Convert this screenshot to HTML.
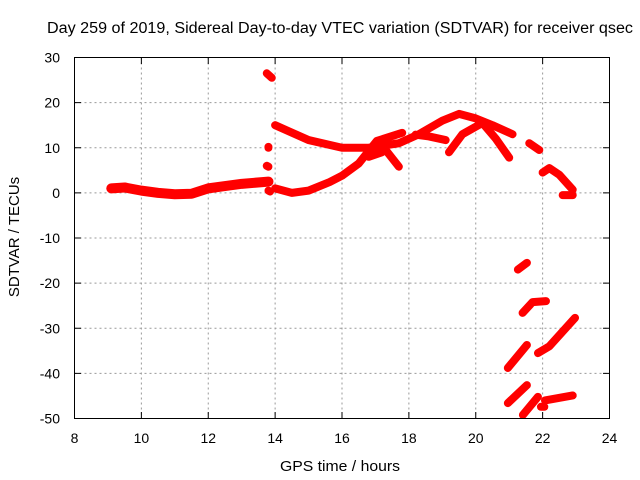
<!DOCTYPE html>
<html><head><meta charset="utf-8"><style>
body{margin:0;background:#fff;}
svg{display:block;font-family:"Liberation Sans",sans-serif;}
</style></head><body>
<svg id="chart" width="640" height="480">
<text x="47" y="33" font-size="15.5" textLength="586" lengthAdjust="spacingAndGlyphs" fill="#000">Day 259 of 2019, Sidereal Day-to-day VTEC variation (SDTVAR) for receiver qsec</text>
<text x="340" y="471" font-size="15" textLength="120" lengthAdjust="spacingAndGlyphs" text-anchor="middle">GPS time / hours</text>
<text transform="translate(19,237) rotate(-90)" font-size="15" text-anchor="middle">SDTVAR / TECUs</text>
<g id="grid"></g><g id="marks"></g>
<rect x="74.5" y="57.5" width="535" height="361" fill="none" stroke="#000" stroke-width="1"/>
<g id="ticks"></g>
</svg>
<script>
const xTicks=[8,10,12,14,16,18,20,22,24];
const yTicks=[30,20,10,0,-10,-20,-30,-40,-50];
const segMain=[[14,15],[15,11.7],[16,10],[16.8,10],[17.7,11],[18.3,13],[19,16],[19.5,17.5],[20,16.5],[20.5,15],[21.1,13]];
const segBase=[[9.1,1],[9.5,1.2],[10,0.5],[10.5,0],[11,-0.3],[11.5,-0.2],[12,1],[12.5,1.5],[13,2],[13.8,2.5]];
const segRise=[[14,1],[14.5,0],[15,0.5],[15.63,2.4],[16,3.8],[16.5,6.5],[17.04,11.5],[17.8,13.3]];
const segDrop=[[17.2,10.5],[17.7,5.8]];
const segFlat=[[16.8,8],[17.2,9]];
const segUpper=[[18.2,12.9],[18.6,12.5],[19.1,11.7]];
const segHump=[[19.2,9],[19.6,13],[20.2,15.5],[20.6,12],[21,7.8]];
const segSpike=[[13.75,26.5],[13.9,25.5]];
const segDots1=[[13.8,10],[13.8,10.2]];
const segDots2=[[13.75,6],[13.8,5.8]];
const segDots3=[[13.8,0.5],[13.85,0.3]];
const segR1=[[21.6,11],[21.9,9.5]];
const segR2=[[22,4.5],[22.2,5.5],[22.5,4],[22.9,0.7]];
const segR3=[[22.6,-0.5],[22.9,-0.5]];
const segL1=[[21.26,-17],[21.53,-15.5]];
const segL2=[[21.4,-26.6],[21.7,-24.2],[22.1,-24]];
const segL3=[[20.96,-38.8],[21.53,-33.7]];
const segL4=[[21.86,-35.5],[22.2,-34],[22.97,-27.7]];
const segL5=[[20.96,-46.6],[21.53,-42.6]];
const segL6=[[21.41,-49.2],[21.86,-45.2]];
const segL7=[[22.07,-46],[22.9,-44.9]];
const segL8=[[21.95,-47.4],[22.05,-47.4]];
const series=[segBase,segMain,segRise,segDrop,segFlat,segUpper,segHump,segSpike,segDots1,segDots2,segDots3,segR1,segR2,segR3,segL1,segL2,segL3,segL4,segL5,segL6,segL7,segL8];
const NS="http://www.w3.org/2000/svg";
const X=t=>74.5+(t-8)*535/16;
const Y=v=>57.5+(30-v)*361/80;
const grid=document.getElementById('grid'),ticks=document.getElementById('ticks'),marks=document.getElementById('marks');
function mk(tag,attrs,parent){const e=document.createElementNS(NS,tag);for(const k in attrs)e.setAttribute(k,attrs[k]);parent.appendChild(e);return e;}
xTicks.forEach(t=>{const x=X(t);
 if(t>8&&t<24){const g=mk('line',{x1:x,x2:x,y1:57.5,y2:418.5,stroke:'#999','stroke-dasharray':'2,3'},grid);
 
 }
 mk('line',{x1:x,x2:x,y1:418.5,y2:412,stroke:'#000'},ticks);mk('line',{x1:x,x2:x,y1:57.5,y2:64,stroke:'#000'},ticks);
 const l=mk('text',{x:x,y:443,'font-size':14,'text-anchor':'middle'},ticks);l.textContent=t;
 
 });
yTicks.forEach(v=>{const y=Y(v);
 if(v<30&&v>-50){const g=mk('line',{x1:74.5,x2:609.5,y1:y,y2:y,stroke:'#999','stroke-dasharray':'2,3'},grid);
 
 }
 mk('line',{x1:74.5,x2:81,y1:y,y2:y,stroke:'#000'},ticks);mk('line',{x1:609.5,x2:603,y1:y,y2:y,stroke:'#000'},ticks);
 const l=mk('text',{x:60,y:y+5,'font-size':14,'text-anchor':'end'},ticks);l.textContent=v;
 
 });
series.forEach((s,i)=>{const p=mk('polyline',{points:s.map(d=>X(d[0])+','+Y(d[1])).join(' '),fill:'none',stroke:'#f00','stroke-width':i===0?10:8,'stroke-linecap':'round','stroke-linejoin':'round'},marks);
 
 });
</script>
</body></html>
